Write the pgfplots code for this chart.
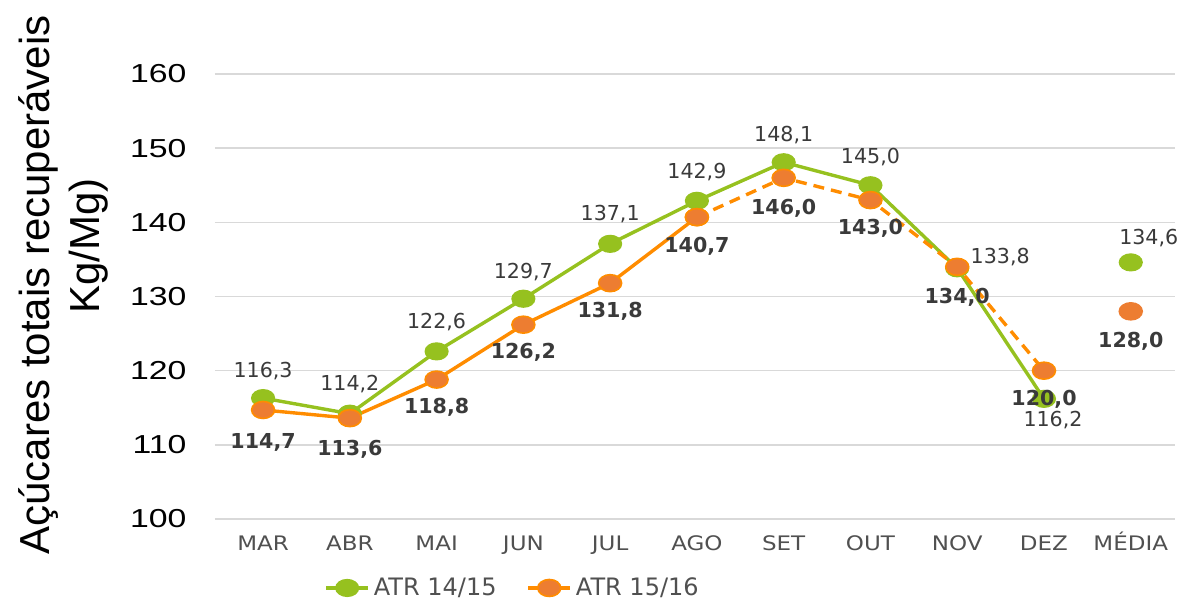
\documentclass[border=0pt]{standalone}
\usepackage{fontspec}
\setmainfont{Liberation Sans}
\newfontfamily\dv{DejaVu Sans}
\usepackage{pgfplots}
\usepackage{pgfplotstable}
\pgfplotsset{compat=1.18}
\definecolor{grn}{HTML}{96C11F}
\definecolor{orl}{HTML}{FF8C00}
\definecolor{orm}{HTML}{ED7D31}
\definecolor{txt}{HTML}{3A3A3A}
\definecolor{cat}{HTML}{505050}

\pgfplotstableread{
x y lab dx dy
0 116.3 116,3 0 13.5
1 114.2 114,2 0 15
2 122.6 122,6 0 14.5
3 129.7 129,7 0 13.5
4 137.1 137,1 0 15
5 142.9 142,9 0 14.5
6 148.1 148,1 0 13.5
7 145.0 145,0 0 14
8 133.8 133,8 21.5 5.5
9 116.2 116,2 4.5 -10.5
10 134.6 134,6 9 12
}\greentab

\pgfplotstableread{
x y lab dx dy
0 114.7 114,7 0 -16
1 113.6 113,6 0 -15.5
2 118.8 118,8 0 -14
3 126.2 126,2 0 -14
4 131.8 131,8 0 -14
5 140.7 140,7 0 -14.5
6 146.0 146,0 0 -15
7 143.0 143,0 0 -14
8 134.0 134,0 0 -15
9 120.0 120,0 0 -14.5
10 128.0 128,0 0 -15
}\orangetab

\begin{document}
\begin{tikzpicture}
\useasboundingbox (-107.5pt,-42pt) rectangle (483.5pt,259.5pt);
\begin{axis}[at={(0,0)}, anchor=south west, scale only axis,
  width=480pt, height=222.5pt,
  xmin=-0.554, xmax=10.51, ymin=100, ymax=160,
  xtick={0,...,10},
  xticklabels={MAR,ABR,MAI,JUN,JUL,AGO,SET,OUT,NOV,DEZ,MÉDIA},
  ytick={100,110,...,160},
  axis line style={draw=none}, tick style={draw=none},
  ymajorgrids, grid style={color=black!15, line width=0.75pt},
  clip=false,
  /pgf/number format/assume math mode=true,
  yticklabel style={font=\fontsize{13}{14}\selectfont, text=black, inner sep=0pt, anchor=east, xshift=-14pt, xscale=1.3},
  xticklabel style={font=\dv\fontsize{10}{10}\selectfont, text=cat, anchor=base, yshift=-16pt, inner sep=0pt, xscale=1.15},
  legend style={at={(0.311,-0.155)}, anchor=center, draw=none, fill=none,
    legend columns=2, font=\dv\fontsize{12}{12}\selectfont, text=cat,
    /tikz/every even column/.append style={column sep=13pt}},
  legend image code/.code={\draw[#1, mark repeat=2, mark phase=2] plot coordinates {(0pt,0pt) (10.5pt,0pt) (21pt,0pt)};},
]
\addplot[grn, line width=1.7pt, mark=*, mark size=4.25pt, mark options={fill=grn, draw=grn, solid, line width=0.6pt, xscale=1.35}]
  coordinates {(0,116.3) (1,114.2) (2,122.6) (3,129.7) (4,137.1) (5,142.9) (6,148.1) (7,145.0) (8,133.8) (9,116.2)};
\addlegendentry{ATR 14/15}
\addplot[grn, only marks, mark=*, mark size=4.25pt, mark options={fill=grn, draw=grn, line width=0.6pt, xscale=1.35}, forget plot]
  coordinates {(10,134.6)};
\addplot[orl, line width=1.7pt, mark=*, mark size=4.25pt, mark options={fill=orm, draw=orl, line width=0.8pt, solid, xscale=1.35}]
  coordinates {(0,114.7) (1,113.6) (2,118.8) (3,126.2) (4,131.8) (5,140.7)};
\addlegendentry{ATR 15/16}
\addplot[orl, line width=1.7pt, dash pattern=on 5.5pt off 3.5pt, mark=*, mark size=4.25pt, mark options={fill=orm, draw=orl, line width=0.8pt, solid, xscale=1.35}, forget plot]
  coordinates {(5,140.7) (6,146.0) (7,143.0) (8,134.0) (9,120.0)};
\addplot[orl, only marks, mark=*, mark size=4.25pt, mark options={fill=orm, draw=orm, line width=0.8pt, xscale=1.35}, forget plot]
  coordinates {(10,128.0)};
\addplot[draw=none, mark=none, forget plot, point meta=explicit symbolic, nodes near coords,
  visualization depends on={\thisrow{dx}\as\dx},
  visualization depends on={\thisrow{dy}\as\dy},
  every node near coord/.append style={font=\dv\fontsize{10.3}{10.3}\selectfont, text=txt, anchor=center, xshift=\dx pt, yshift=\dy pt}]
  table[x=x, y=y, meta=lab]{\greentab};
\addplot[draw=none, mark=none, forget plot, point meta=explicit symbolic, nodes near coords,
  visualization depends on={\thisrow{dx}\as\dx},
  visualization depends on={\thisrow{dy}\as\dy},
  every node near coord/.append style={font=\dv\bfseries\fontsize{10.3}{10.3}\selectfont, text=txt, anchor=center, xshift=\dx pt, yshift=\dy pt}]
  table[x=x, y=y, meta=lab]{\orangetab};
\end{axis}
\node[rotate=90, anchor=base, font=\fontsize{21}{25}\selectfont] at (-82.5pt,117pt) {Açúcares totais recuperáveis};
\node[rotate=90, anchor=base, font=\fontsize{21}{25}\selectfont] at (-57.5pt,136.5pt) {Kg/Mg)};
\end{tikzpicture}
\end{document}
